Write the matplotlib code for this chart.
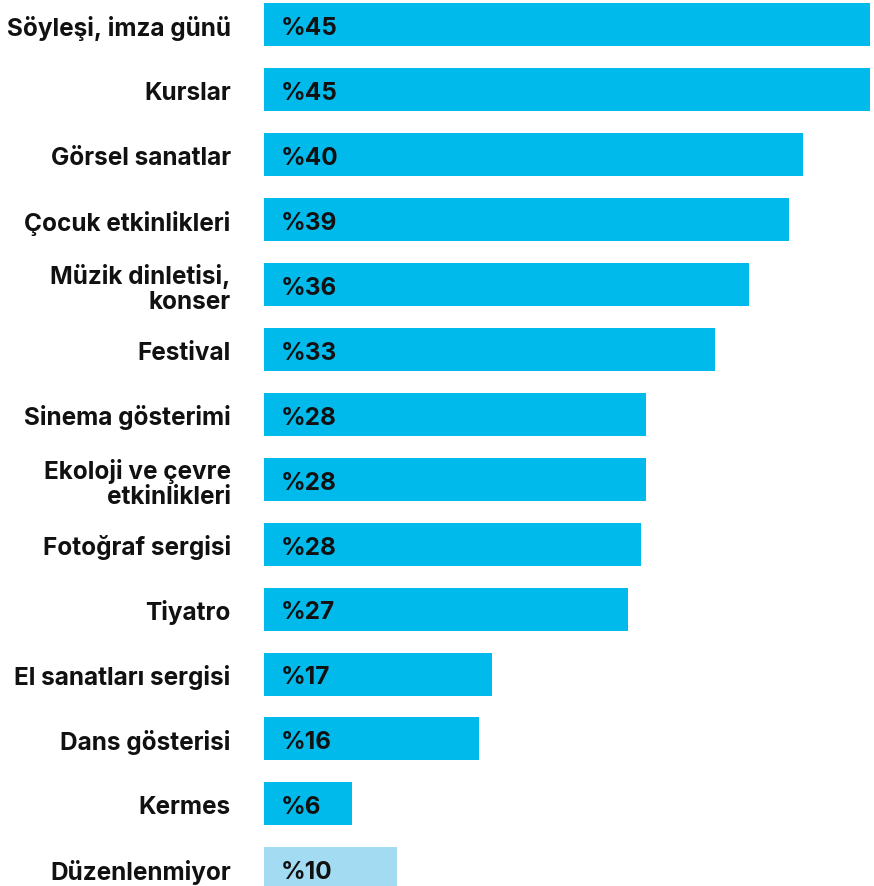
import matplotlib
matplotlib.use('Agg')
import matplotlib.pyplot as plt

categories = ['Söyleşi, imza günü', 'Kurslar', 'Görsel sanatlar', 'Çocuk etkinlikleri',
              'Müzik dinletisi,\nkonser', 'Festival', 'Sinema gösterimi',
              'Ekoloji ve çevre\netkinlikleri', 'Fotoğraf sergisi', 'Tiyatro',
              'El sanatları sergisi', 'Dans gösterisi', 'Kermes', 'Düzenlenmiyor']
values = [45, 45, 40, 39, 36, 33.5, 28.4, 28.4, 28, 27, 16.9, 16, 6.5, 9.9]
value_labels = ['%45', '%45', '%40', '%39', '%36', '%33', '%28', '%28', '%28', '%27',
                '%17', '%16', '%6', '%10']

main_color = '#00BAEC'
last_color = '#A3DBF3'
colors = [main_color] * (len(values) - 1) + [last_color]

plt.rcParams['font.family'] = ['Inter', 'DejaVu Sans']

fig = plt.figure(figsize=(8.74, 8.87), dpi=100)
ax = fig.add_axes([264 / 874, 0, 606 / 874, 1])

ypos = list(range(len(values)))
ax.barh(ypos, values, height=0.663, color=colors)

for y, v, lab in zip(ypos, values, value_labels):
    ax.annotate(lab, xy=(0, y), xytext=(12, -2), textcoords='offset points',
                ha='left', va='center', fontsize=17.5, fontweight='bold', color='#111111')

ax.set_xlim(0, 45)
ax.set_ylim(13.265, -0.40)
ax.set_yticks(ypos)
ax.set_yticklabels(categories, fontsize=17.5, fontweight='bold', color='#111111',
                   multialignment='right', linespacing=1.12)
ax.tick_params(axis='y', length=0, pad=24)
ax.set_xticks([])
for s in ax.spines.values():
    s.set_visible(False)

plt.savefig('out.png', dpi=100)
